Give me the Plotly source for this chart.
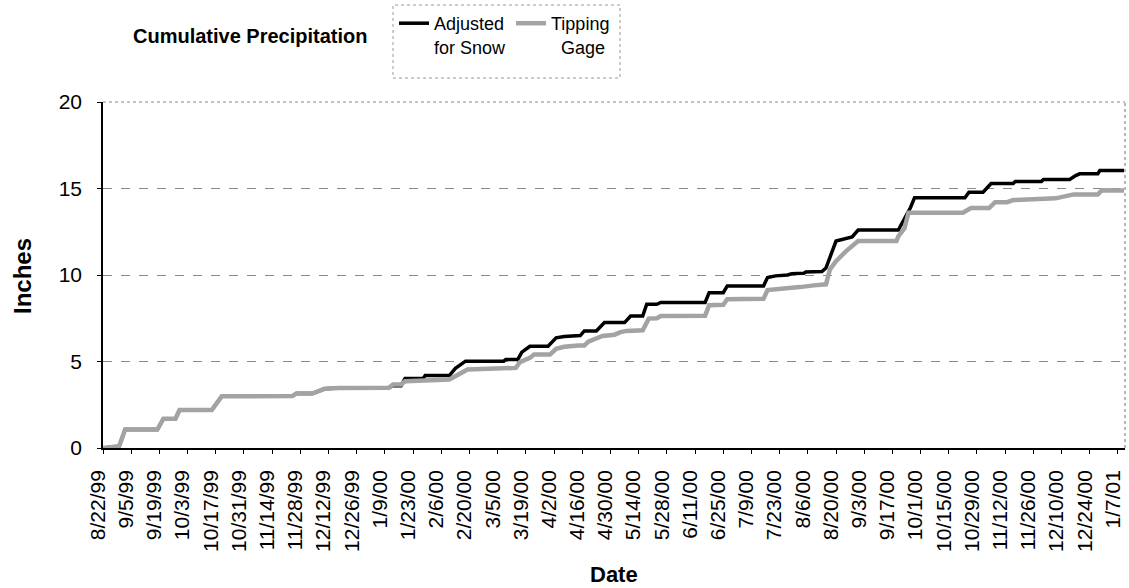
import plotly.graph_objects as go
import pandas as pd

# ---- data ----
tick_labels = ["8/22/99", "9/5/99", "9/19/99", "10/3/99", "10/17/99", "10/31/99", "11/14/99",
               "11/28/99", "12/12/99", "12/26/99", "1/9/00", "1/23/00", "2/6/00", "2/20/00",
               "3/5/00", "3/19/00", "4/2/00", "4/16/00", "4/30/00", "5/14/00", "5/28/00",
               "6/11/00", "6/25/00", "7/9/00", "7/23/00", "8/6/00", "8/20/00", "9/3/00",
               "9/17/00", "10/1/00", "10/15/00", "10/29/00", "11/12/00", "11/26/00",
               "12/10/00", "12/24/00", "1/7/01"]

tipping_dates = ["1999-08-22", "1999-08-27", "1999-08-30", "1999-09-02", "1999-09-18", "1999-09-21",
                 "1999-09-27", "1999-09-29", "1999-10-15", "1999-10-20", "1999-11-24", "1999-11-26",
                 "1999-12-04", "1999-12-10", "1999-12-17", "2000-01-11", "2000-01-13", "2000-01-17",
                 "2000-01-19", "2000-01-29", "2000-02-10", "2000-02-19", "2000-03-14", "2000-03-16",
                 "2000-03-21", "2000-03-23", "2000-03-31", "2000-04-03", "2000-04-07", "2000-04-14",
                 "2000-04-17", "2000-04-19", "2000-04-23", "2000-04-26", "2000-05-02", "2000-05-05",
                 "2000-05-08", "2000-05-16", "2000-05-19", "2000-05-23", "2000-05-25", "2000-06-16",
                 "2000-06-18", "2000-06-25", "2000-06-27", "2000-07-15", "2000-07-17", "2000-07-25",
                 "2000-08-02", "2000-08-09", "2000-08-15", "2000-08-17", "2000-08-20", "2000-08-25",
                 "2000-08-28", "2000-08-31", "2000-09-19", "2000-09-20", "2000-09-23", "2000-09-25",
                 "2000-10-22", "2000-10-26", "2000-11-04", "2000-11-07", "2000-11-13", "2000-11-16",
                 "2000-12-07", "2000-12-16", "2000-12-28", "2000-12-30", "2001-01-10"]
tipping_values = [0.00, 0.05, 0.10, 1.07, 1.07, 1.69,
                  1.69, 2.19, 2.19, 2.99, 3.00, 3.15,
                  3.15, 3.42, 3.47, 3.48, 3.67, 3.67,
                  3.86, 3.90, 3.96, 4.54, 4.63, 4.96,
                  5.21, 5.40, 5.40, 5.73, 5.85, 5.92,
                  5.92, 6.15, 6.30, 6.48, 6.55, 6.70,
                  6.77, 6.80, 7.48, 7.50, 7.63, 7.65,
                  8.25, 8.28, 8.60, 8.62, 9.13, 9.20,
                  9.30, 9.40, 9.46, 10.33, 10.80, 11.38,
                  11.70, 11.96, 11.96, 12.25, 12.70, 13.60,
                  13.60, 13.87, 13.87, 14.21, 14.21, 14.33,
                  14.43, 14.66, 14.66, 14.90, 14.88]

adjusted_dates = ["1999-08-22", "1999-08-27", "1999-08-30", "1999-09-02", "1999-09-18", "1999-09-21",
                  "1999-09-27", "1999-09-29", "1999-10-15", "1999-10-20", "1999-11-24", "1999-11-26",
                  "1999-12-04", "1999-12-10", "1999-12-17", "2000-01-11", "2000-01-13", "2000-01-17",
                  "2000-01-19", "2000-01-28", "2000-01-29", "2000-02-10", "2000-02-13", "2000-02-18",
                  "2000-03-08", "2000-03-09", "2000-03-15", "2000-03-17", "2000-03-21", "2000-03-30",
                  "2000-04-01", "2000-04-03", "2000-04-07", "2000-04-15", "2000-04-17", "2000-04-23",
                  "2000-04-27", "2000-05-07", "2000-05-10", "2000-05-16", "2000-05-18", "2000-05-23",
                  "2000-05-25", "2000-06-16", "2000-06-18", "2000-06-25", "2000-06-27", "2000-07-15",
                  "2000-07-17", "2000-07-21", "2000-07-27", "2000-07-29", "2000-08-04", "2000-08-05",
                  "2000-08-13", "2000-08-14", "2000-08-15", "2000-08-20", "2000-08-23", "2000-08-26",
                  "2000-08-28", "2000-08-31", "2000-09-20", "2000-09-21", "2000-09-24", "2000-09-26",
                  "2000-09-28", "2000-10-23", "2000-10-25", "2000-11-01", "2000-11-05", "2000-11-16",
                  "2000-11-17", "2000-11-30", "2000-12-01", "2000-12-14", "2000-12-17", "2000-12-19",
                  "2000-12-28", "2000-12-29", "2001-01-10"]
adjusted_values = [0.00, 0.05, 0.10, 1.07, 1.07, 1.69,
                   1.69, 2.19, 2.19, 2.99, 3.00, 3.15,
                   3.15, 3.42, 3.47, 3.48, 3.60, 3.60,
                   4.02, 4.02, 4.19, 4.19, 4.60, 5.02,
                   5.02, 5.12, 5.12, 5.54, 5.88, 5.88,
                   6.14, 6.37, 6.45, 6.50, 6.77, 6.77,
                   7.25, 7.25, 7.63, 7.63, 8.31, 8.31,
                   8.41, 8.41, 8.98, 8.98, 9.37, 9.37,
                   9.85, 9.95, 10.00, 10.08, 10.10, 10.17,
                   10.20, 10.33, 10.40, 11.96, 12.06, 12.16,
                   12.20, 12.60, 12.60, 12.83, 13.50, 13.90,
                   14.47, 14.47, 14.79, 14.79, 15.29, 15.29,
                   15.40, 15.40, 15.52, 15.52, 15.75, 15.85,
                   15.85, 16.04, 16.04]

y_ticks = [0, 5, 10, 15, 20]

FONT = "Liberation Sans, Arial, sans-serif"
W, H = 1129, 588
L, R, T, B = 103, 4, 102, 140

fig = go.Figure()
fig.add_trace(go.Scatter(
    x=pd.to_datetime(adjusted_dates), y=adjusted_values, mode="lines",
    name="Adjusted<br>for Snow", line=dict(color="#000000", width=3.5)))
fig.add_trace(go.Scatter(
    x=pd.to_datetime(tipping_dates), y=tipping_values, mode="lines",
    name="Tipping<br>\u00a0\u00a0Gage", line=dict(color="#a3a3a3", width=4.5)))

tick_vals = pd.to_datetime(tick_labels, format="%m/%d/%y")

fig.update_layout(
    width=W, height=H,
    margin=dict(l=L, r=R, t=T, b=B, autoexpand=False),
    paper_bgcolor="white", plot_bgcolor="white",
    font=dict(family=FONT, color="black"),
    title=dict(text="<b>Cumulative Precipitation</b>", xref="container", yref="container",
               x=133 / W, xanchor="left", y=1 - 36 / H, yanchor="middle",
               font=dict(size=20, family=FONT, color="black")),
    legend=dict(orientation="h", xref="container", yref="container",
                x=394 / W, xanchor="left", y=1 - 5 / H, yanchor="top",
                bgcolor="rgba(0,0,0,0)", borderwidth=0, valign="top",
                font=dict(size=18, family=FONT, color="black"),
                itemwidth=30, tracegroupgap=0),
    showlegend=True,
    xaxis=dict(type="date", range=["1999-08-22", "2001-01-10 12:00"],
               tickmode="array", tickvals=tick_vals, ticktext=tick_labels,
               tickangle=-90, tickfont=dict(size=21, family=FONT, color="black"),
               ticks="outside", ticklen=4, tickcolor="black",
               ticklabelshift=-5, ticklabelstandoff=8,
               showline=True, linecolor="black", linewidth=1.5,
               showgrid=False, zeroline=False, automargin=False),
    yaxis=dict(range=[0, 20], tickvals=y_ticks,
               tickfont=dict(size=21, family=FONT, color="black"),
               ticks="outside", ticklen=4, tickcolor="black", ticklabelstandoff=11,
               showline=True, linecolor="black", linewidth=1.5,
               showgrid=True, gridcolor="#8a8a8a", griddash="dash", gridwidth=1,
               zeroline=False, automargin=False),
)

# plot frame (top / right, dotted grey) and legend box
fig.add_shape(type="line", xref="paper", yref="paper", x0=0, x1=1, y0=1, y1=1,
              line=dict(color="#8a8a8a", width=1, dash="dot"))
fig.add_shape(type="line", xref="paper", yref="paper", x0=1, x1=1, y0=0, y1=1,
              line=dict(color="#8a8a8a", width=1.2, dash="dot"))
pw, ph = W - L - R, H - T - B
bx0, bx1, by0, by1 = 393, 620, 5, 78
fig.add_shape(type="rect", xref="paper", yref="paper",
              x0=(bx0 - L) / pw, x1=(bx1 - L) / pw,
              y0=(H - B - by1) / ph, y1=(H - B - by0) / ph,
              line=dict(color="#9a9a9a", width=1, dash="dot"), fillcolor="rgba(0,0,0,0)")

# axis titles
fig.add_annotation(text="<b>Inches</b>", xref="paper", yref="paper",
                   x=(22 - L) / pw, y=(H - B - 276) / ph, textangle=-90,
                   showarrow=False, font=dict(size=24, family=FONT, color="black"),
                   xanchor="center", yanchor="middle")
fig.add_annotation(text="<b>Date</b>", xref="paper", yref="paper",
                   x=(614 - L) / pw, y=(H - B - 574) / ph,
                   showarrow=False, font=dict(size=22, family=FONT, color="black"),
                   xanchor="center", yanchor="middle")

fig.write_html("out.html")
